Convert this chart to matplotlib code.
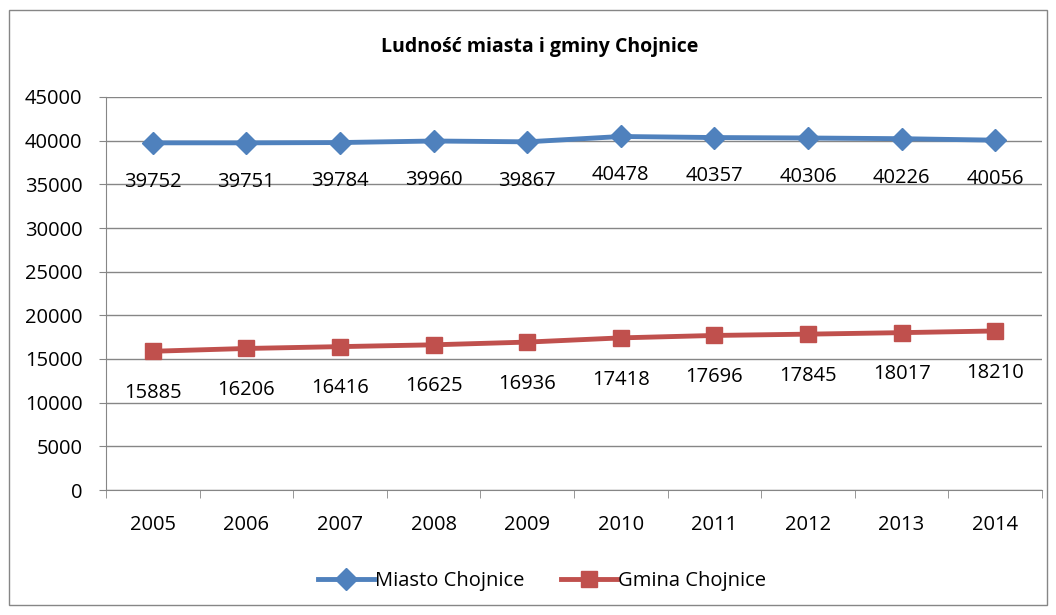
import matplotlib.pyplot as plt
from matplotlib.patches import Rectangle

# Data
years = [2005, 2006, 2007, 2008, 2009, 2010, 2011, 2012, 2013, 2014]
miasto = [39752, 39751, 39784, 39960, 39867, 40478, 40357, 40306, 40226, 40056]
gmina = [15885, 16206, 16416, 16625, 16936, 17418, 17696, 17845, 18017, 18210]

blue = "#4F81BD"
red = "#C0504D"

plt.rcParams["font.family"] = ["Open Sans", "DejaVu Sans"]

fig = plt.figure(figsize=(10.56, 6.15), dpi=100)
ax = fig.add_axes([106 / 1056, 1 - 490 / 615, (1042 - 106) / 1056, (490 - 97) / 615])

x = list(range(len(years)))
ax.plot(x, miasto, color=blue, lw=3.5, marker="D", markersize=11, label="Miasto Chojnice")
ax.plot(x, gmina, color=red, lw=3.5, marker="s", markersize=12, label="Gmina Chojnice")

# data labels below points
for xi, v in zip(x, miasto):
    ax.annotate(str(v), (xi, v), xytext=(0, -28), textcoords="offset points",
                ha="center", va="center", fontsize=14.5)
for xi, v in zip(x, gmina):
    ax.annotate(str(v), (xi, v), xytext=(0, -30), textcoords="offset points",
                ha="center", va="center", fontsize=14.5)

ax.set_xlim(-0.5, len(years) - 0.5)
ax.set_ylim(0, 45000)
ax.set_yticks(range(0, 45001, 5000))
ax.set_xticks(x)
ax.set_xticklabels([str(y) for y in years])
ax.set_xticks([i - 0.5 for i in range(len(years) + 1)], minor=True)
ax.tick_params(axis="x", which="major", length=0, labelsize=14.5, pad=18)
ax.tick_params(axis="x", which="minor", length=6, color="#868686")
ax.tick_params(axis="y", length=5, color="#868686", labelsize=14.5, pad=12)
ax.grid(axis="y", color="#868686", lw=1)
ax.set_axisbelow(True)
for s in ["top", "right"]:
    ax.spines[s].set_visible(False)
ax.spines["left"].set_color("#868686")
ax.spines["bottom"].set_color("#868686")

fig.text(540 / 1056, 1 - 47 / 615, "Ludność miasta i gminy Chojnice", ha="center", va="center",
         fontsize=14, fontweight="bold")

fig.legend(loc="center", bbox_to_anchor=(542 / 1056, 1 - 581 / 615), ncol=2, frameon=False,
           fontsize=14.5, handlelength=2.8, handletextpad=0.05, columnspacing=1.8)

fig.patches.append(Rectangle((9 / 1056, 1 - 605 / 615), 1038 / 1056, 595 / 615,
                             transform=fig.transFigure, fill=False, ec="#868686", lw=1))

fig.savefig("out.png", dpi=100)
